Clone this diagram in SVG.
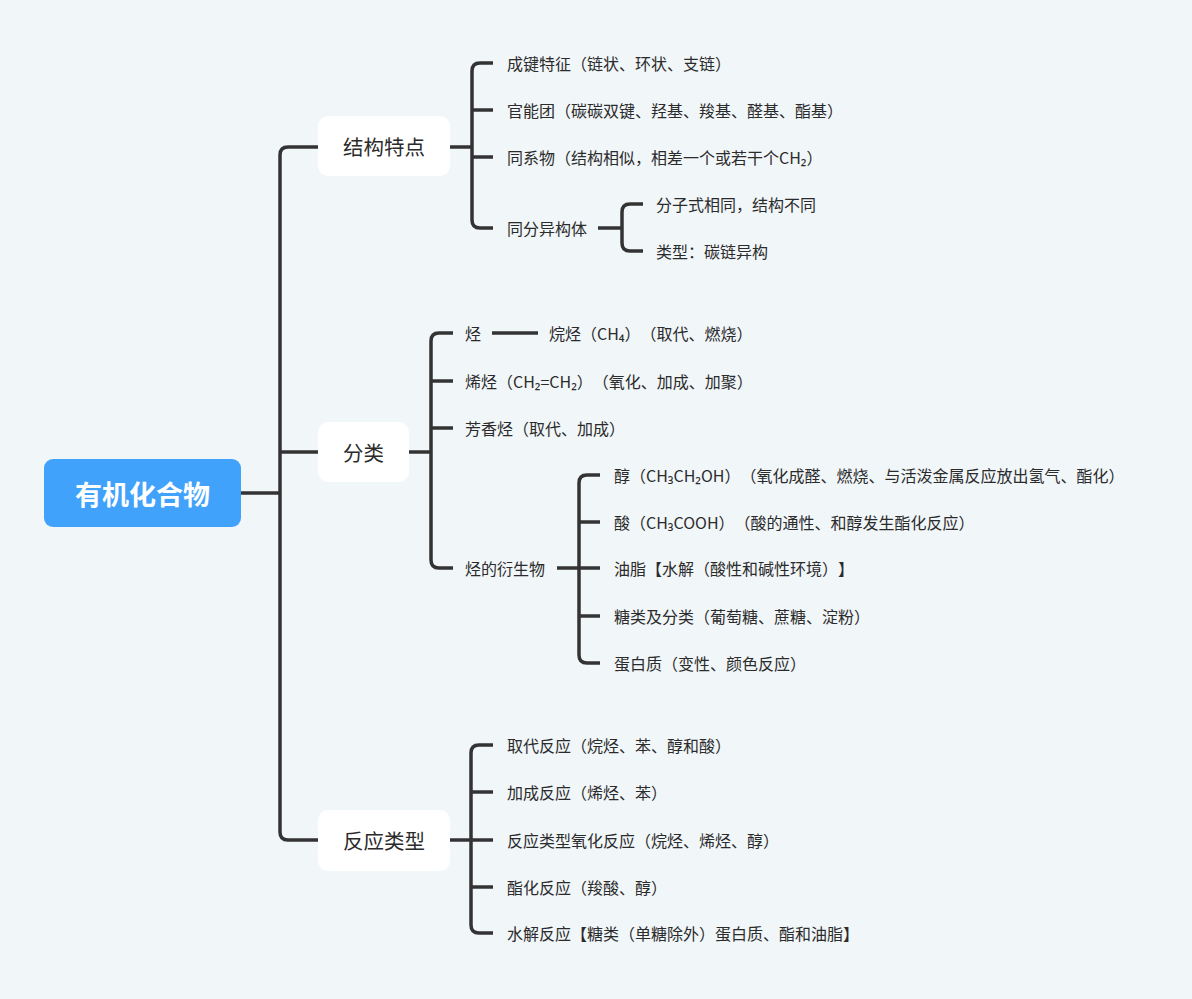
<svg xmlns="http://www.w3.org/2000/svg" width="1192" height="999" viewBox="0 0 1192 999">
<style>
.bg{fill:#f1f6f9}
.conn path{fill:none;stroke:#333333;stroke-width:3.5;stroke-linecap:butt;stroke-linejoin:round}
text{text-spacing-trim:space-all}
.t{font-family:"Noto Sans CJK SC","Noto Sans",sans-serif;fill:#2b2b2b;dominant-baseline:central}
.leaf{font-size:16px}
.mid{font-size:20.5px;text-anchor:middle}
.box{fill:#ffffff}
.root{fill:#41a2fc}
.rt{font-family:"Noto Sans CJK SC","Noto Sans",sans-serif;font-size:27px;font-weight:bold;fill:#ffffff;text-anchor:middle;dominant-baseline:central}
</style>
<rect class="bg" x="0" y="0" width="1192" height="999"/>
<g class="conn" id="connectors">
<path d="M241,493 H280"/>
<path d="M318,147 H288 Q280,147 280,155 V832 Q280,840 288,840 H318"/>
<path d="M280,452 H318"/>
<path d="M450,147 H472"/>
<path d="M493,63 H480 Q472,63 472,71 V220 Q472,228 480,228 H493"/>
<path d="M472,110 H493"/>
<path d="M472,157 H493"/>
<path d="M598,228 H622"/>
<path d="M643,204 H630 Q622,204 622,212 V243 Q622,251 630,251 H643"/>
<path d="M409,452 H431"/>
<path d="M453,333 H439 Q431,333 431,341 V560 Q431,568 439,568 H453"/>
<path d="M431,381 H453"/>
<path d="M431,428 H453"/>
<path d="M492,333 H538"/>
<path d="M557,568 H579"/>
<path d="M600,475 H587 Q579,475 579,483 V655 Q579,663 587,663 H600"/>
<path d="M579,522 H600"/>
<path d="M579,568 H600"/>
<path d="M579,616 H600"/>
<path d="M450,840 H471"/>
<path d="M493,745 H479 Q471,745 471,753 V925 Q471,933 479,933 H493"/>
<path d="M471,792 H493"/>
<path d="M471,840 H493"/>
<path d="M471,887 H493"/>
</g>
<g id="root"><rect class="root" x="44" y="459" width="197" height="68" rx="9"/><text class="rt" x="142.5" y="493">有机化合物</text></g>
<g id="n-jiegou"><rect class="box" x="318" y="116" width="132" height="60" rx="10"/><text class="t mid" x="384" y="146">结构特点</text></g>
<g id="n-fenlei"><rect class="box" x="318" y="422" width="91" height="60" rx="10"/><text class="t mid" x="363.5" y="452">分类</text></g>
<g id="n-fanying"><rect class="box" x="318" y="810" width="132" height="61" rx="10"/><text class="t mid" x="384" y="840">反应类型</text></g>
<g id="l1"><text class="t leaf" x="507" y="63">成键特征（链状、环状、支链）</text></g>
<g id="l2"><text class="t leaf" x="507" y="110">官能团（碳碳双键、羟基、羧基、醛基、酯基）</text></g>
<g id="l3"><text class="t leaf" x="507" y="157">同系物（结构相似，相差一个或若干个CH₂）</text></g>
<g id="l4"><text class="t leaf" x="507" y="228">同分异构体</text></g>
<g id="l4a"><text class="t leaf" x="656" y="204">分子式相同，结构不同</text></g>
<g id="l4b"><text class="t leaf" x="656" y="251">类型：碳链异构</text></g>
<g id="f1"><text class="t leaf" x="465" y="333">烃</text></g>
<g id="f1a"><text class="t leaf" x="549" y="333">烷烃（CH₄）（取代、燃烧）</text></g>
<g id="f2"><text class="t leaf" x="465" y="381">烯烃（CH₂=CH₂）（氧化、加成、加聚）</text></g>
<g id="f3"><text class="t leaf" x="465" y="428">芳香烃（取代、加成）</text></g>
<g id="f4"><text class="t leaf" x="465" y="568">烃的衍生物</text></g>
<g id="d1"><text class="t leaf" x="614" y="475">醇（CH₃CH₂OH）（氧化成醛、燃烧、与活泼金属反应放出氢气、酯化）</text></g>
<g id="d2"><text class="t leaf" x="614" y="522">酸（CH₃COOH）（酸的通性、和醇发生酯化反应）</text></g>
<g id="d3"><text class="t leaf" x="614" y="568">油脂【水解（酸性和碱性环境）】</text></g>
<g id="d4"><text class="t leaf" x="614" y="616">糖类及分类（葡萄糖、蔗糖、淀粉）</text></g>
<g id="d5"><text class="t leaf" x="614" y="663">蛋白质（变性、颜色反应）</text></g>
<g id="r1"><text class="t leaf" x="507" y="745">取代反应（烷烃、苯、醇和酸）</text></g>
<g id="r2"><text class="t leaf" x="507" y="792">加成反应（烯烃、苯）</text></g>
<g id="r3"><text class="t leaf" x="507" y="840">反应类型氧化反应（烷烃、烯烃、醇）</text></g>
<g id="r4"><text class="t leaf" x="507" y="887">酯化反应（羧酸、醇）</text></g>
<g id="r5"><text class="t leaf" x="507" y="933">水解反应【糖类（单糖除外）蛋白质、酯和油脂】</text></g>
</svg>
